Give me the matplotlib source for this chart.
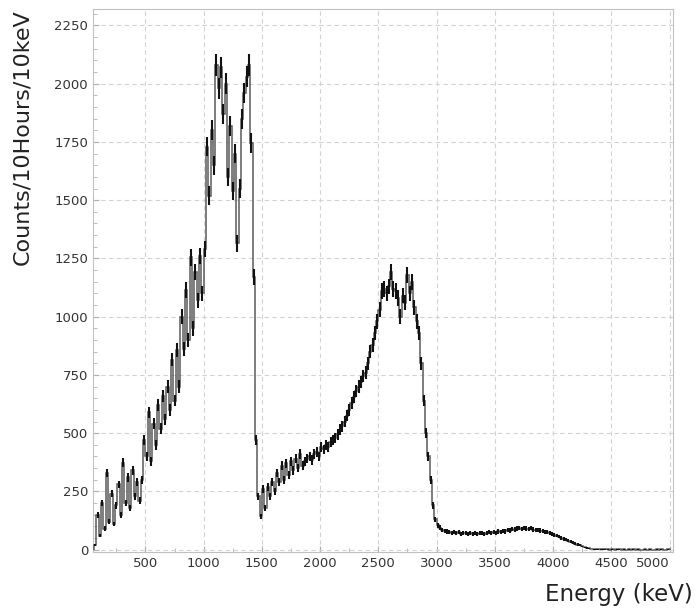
import matplotlib
matplotlib.use("Agg")
import matplotlib.pyplot as plt
import numpy as np

# energy spectrum, 20 keV bins starting at 60 keV
bin_start = 60
bin_width = 20
counts = [
    20, 150, 60, 200, 90, 330, 120, 240, 110, 190,          # 60-240
    280, 150, 373, 200, 310, 180, 340, 230, 290, 210,       # 260-440
    300, 470, 400, 590, 380, 540, 450, 620, 520, 660,       # 460-640
    560, 700, 600, 815, 640, 857, 700, 1000, 860, 1115,     # 660-840
    900, 1255, 950, 1190, 1070, 1260, 1100, 1290, 1730, 1520,  # 860-1040
    1800, 1650, 2080, 1980, 2070, 1870, 2000, 1600, 1820, 1540,  # 1060-1240
    1700, 1315, 1550, 1850, 1960, 2030, 2080, 1745, 1170, 470,  # 1260-1440
    230, 143, 260, 180, 270, 230, 290, 250, 330, 290,       # 1460-1640
    360, 300, 370, 320, 380, 340, 390, 350, 410, 360,       # 1660-1840
    380, 390, 400, 385, 410, 420, 400, 440, 430, 450,       # 1860-2040
    440, 460, 470, 480, 495, 515, 530, 550, 575, 600,       # 2060-2240
    630, 657, 680, 700, 720, 745, 760, 800, 850, 880,       # 2260-2440
    930, 980, 1030, 1110, 1120, 1100, 1130, 1190, 1120, 1110,  # 2460-2640
    1080, 1000, 1090, 1060, 1180, 1100, 1150, 1040, 980, 930,  # 2660-2840
    800, 640, 500, 400, 300, 190, 130, 105, 95, 85,         # 2860-3040
    80, 78, 76, 72, 75, 70, 74, 68, 72, 70,                 # 3060-3240
    66, 71, 68, 72, 66, 70, 73, 68, 71, 74,                 # 3260-3440
    70, 75, 73, 78, 76, 80, 78, 84, 82, 88,                 # 3460-3640
    86, 90, 92, 88, 94, 90, 88, 92, 86, 84,                 # 3660-3840
    84, 82, 80, 76, 74, 70, 67, 64, 60, 56,                 # 3860-4040
    50, 46, 42, 38, 34, 30, 26, 22, 18, 14,                 # 4060-4240
    10, 7, 5, 3, 2, 2, 1, 1, 2, 1,                          # 4260-4440
    1, 0, 1, 0, 1, 1, 0, 1, 0, 1,                           # 4460-4640
    0, 1, 0, 1, 0, 0, 1, 0, 1, 0,                           # 4660-4840
    0, 1, 0, 1, 0, 0, 1,                                    # 4860-4980
]

x_ticks = [500, 1000, 1500, 2000, 2500, 3000, 3500, 4000, 4500, 5000]
y_ticks = [0, 250, 500, 750, 1000, 1250, 1500, 1750, 2000, 2250]

plt.rcParams['font.family'] = ['DejaVu Sans']

counts = np.array(counts, dtype=float)
edges = bin_start + bin_width * np.arange(len(counts) + 1)
centers = 0.5 * (edges[:-1] + edges[1:])

fig = plt.figure(figsize=(6.96, 6.10), dpi=100)
ax = fig.add_axes([0.1336, 0.0951, 0.967 - 0.1336, 0.985 - 0.0951])

ax.stairs(counts, edges, color='#5a5a5a', lw=1.1, zorder=3)
ax.errorbar(centers, counts, yerr=np.sqrt(counts), fmt='none',
            ecolor='#111111', elinewidth=1.5, zorder=4)

ax.set_xlim(50, 5030)
ax.set_ylim(-10, 2320)
ax.set_xticks(x_ticks)
ax.set_yticks(y_ticks)
ax.set_xticks(np.arange(250, 5001, 500), minor=True)
ax.set_yticks(np.arange(0, 2301, 50), minor=True)

ax.grid(True, which='major', color='#d2d2d2', linestyle=(0, (4, 3)), lw=0.8)
ax.tick_params(which='both', direction='in', color='#b0b0b0',
               labelsize=9.5, labelcolor='#333333')
ax.tick_params(which='major', length=4)
ax.tick_params(which='minor', length=3)
for s in ax.spines.values():
    s.set_color('#c0c0c0')
ax.get_xticklabels()[-1].set_ha('right')

fig.text(0.032, 0.985, 'Counts/10Hours/10keV', rotation=90, ha='center',
         va='top', fontsize=16, color='#222222')
fig.text(0.996, 0.025, 'Energy (keV)', ha='right', va='center',
         fontsize=16.5, color='#222222')

fig.savefig('out.png', dpi=100)
